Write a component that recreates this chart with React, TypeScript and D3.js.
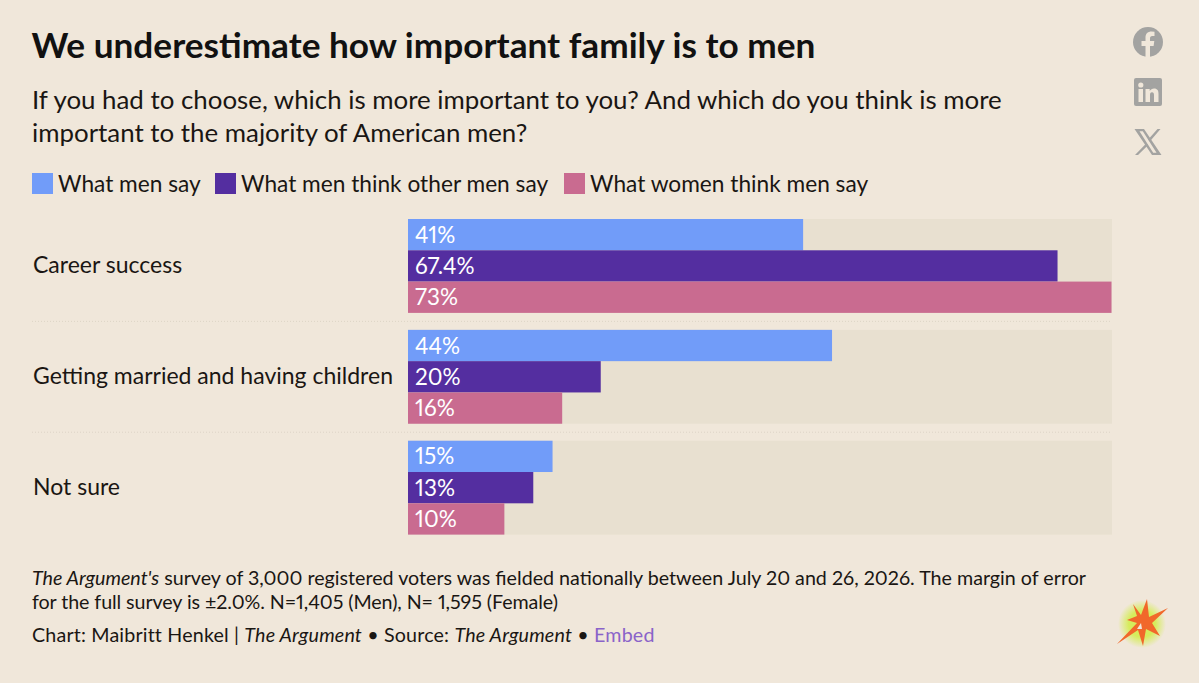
import { useEffect, useRef } from "react";
import * as d3 from "d3";

const categories = ["Career success", "Getting married and having children", "Not sure"];
const seriesNames = ["What men say", "What men think other men say", "What women think men say"];
const menSay = [41, 44, 15];
const menThink = [67.4, 20, 13];
const womenThink = [73, 16, 10];
const valueLabels = [
    ["41%", "44%", "15%"],
    ["67.4%", "20%", "13%"],
    ["73%", "16%", "10%"],
];
const colors = ["#719cf9", "#542ea0", "#c96b90"];

const W = 1199;
const H = 683;
const FONT = "Lato, 'Open Sans', sans-serif";
const BG = "#f0e7da";

export default function App() {
    const svgRef = useRef<SVGSVGElement | null>(null);

    useEffect(() => {
        document.body.style.margin = "0";
        document.body.style.background = BG;
        if (!svgRef.current) return;

        const svg = d3.select(svgRef.current);
        svg.selectAll("*").remove();
        svg.style("font-family", FONT).style("font-variant-numeric", "proportional-nums");

        const addText = (x: number, y: number, size: number, fill = "#1a1613") =>
            svg.append("text").attr("x", x).attr("y", y).attr("font-size", size).attr("fill", fill);

        addText(31.5, 58, 35.2, "#111").attr("font-weight", 700).text("We underestimate how important family is to men");
        addText(32, 109, 25.87).text("If you had to choose, which is more important to you? And which do you think is more");
        addText(32, 142, 25.87).text("important to the majority of American men?");

        // Legend
        const legendX = [32, 215, 564];
        seriesNames.forEach((name, i) => {
            svg.append("rect").attr("x", legendX[i]).attr("y", 173).attr("width", 21).attr("height", 21).attr("fill", colors[i]);
            addText(legendX[i] + 26, 192, 22.7).text(name);
        });

        const x = d3.scaleLinear().domain([0, 73]).range([408, 1111.5]);
        const y = d3.scaleBand<string>().domain(categories).range([219, 534.6]).paddingInner(17 / 111).paddingOuter(0);
        const inner = d3.scaleBand<number>().domain([0, 1, 2]).range([0, y.bandwidth()]);
        const series = [menSay, menThink, womenThink];

        categories.forEach((cat, c) => {
            const y0 = y(cat)!;
            svg.append("rect").attr("x", 408).attr("y", y0).attr("width", 704).attr("height", y.bandwidth()).attr("fill", "#e8e0d0");
            series.forEach((vals, s) => {
                const by = y0 + inner(s)!;
                svg.append("rect").attr("x", x(0)).attr("y", by).attr("width", x(vals[c]) - x(0)).attr("height", inner.bandwidth()).attr("fill", colors[s]);
                addText(415, by + inner.bandwidth() / 2 + 8, 22.5, "#fff").text(valueLabels[s][c]);
            });
            addText(33, y0 + y.bandwidth() / 2 + 7.5, 23).text(cat);
            if (c > 0) {
                svg.append("line").attr("x1", 32).attr("x2", 1112).attr("y1", y0 - 8.5).attr("y2", y0 - 8.5)
                    .attr("stroke", "#ddd5c6").attr("stroke-width", 1).attr("stroke-dasharray", "1 2");
            }
        });

        // Footer
        const note1 = addText(32, 585, 19.68);
        note1.append("tspan").attr("font-style", "italic").text("The Argument's");
        note1.append("tspan").text(" survey of 3,000 registered voters was fielded nationally between July 20 and 26, 2026. The margin of error");
        addText(32, 609, 19.68).attr("letter-spacing", -0.08).text("for the full survey is ±2.0%. N=1,405 (Men), N= 1,595 (Female)");
        const note2 = addText(32, 642, 19.68).attr("letter-spacing", 0.17);
        note2.append("tspan").text("Chart: Maibritt Henkel | ");
        note2.append("tspan").attr("font-style", "italic").text("The Argument");
        note2.append("tspan").text(" • Source: ");
        note2.append("tspan").attr("font-style", "italic").text("The Argument");
        note2.append("tspan").text(" • ");
        note2.append("tspan").attr("fill", "#8a63c9").text("Embed");

        // Share icons
        const grey = "#a3a3a1";
        const fb = svg.append("g").attr("transform", "translate(1148,42)");
        fb.append("circle").attr("r", 15).attr("fill", grey);
        fb.append("path").attr("fill", BG)
            .attr("d", "M-2.5,15 V4 H-6.5 V-1 H-2.5 V-4.5 C-2.5,-8.5 0,-10.5 3.5,-10.5 L6.5,-10.2 V-6 H4.3 C2.6,-6 2,-5 2,-3.6 V-1 H6.3 L5.6,4 H2 V15 Z");
        const li = svg.append("g").attr("transform", "translate(1148,92)");
        li.append("rect").attr("x", -14).attr("y", -14).attr("width", 28).attr("height", 28).attr("rx", 2).attr("fill", grey);
        li.append("rect").attr("x", -9.5).attr("y", -3).attr("width", 4.5).attr("height", 13).attr("fill", BG);
        li.append("circle").attr("cx", -7.2).attr("cy", -7).attr("r", 2.6).attr("fill", BG);
        li.append("path").attr("fill", BG)
            .attr("d", "M-2.5,-3 H1.7 V-1 C2.6,-2.4 4.2,-3.4 6,-3.4 C9.6,-3.4 10.5,-1 10.5,2 V10 H6 V3 C6,1.4 5.5,0.2 4,0.2 C2.4,0.2 2,1.5 2,3 V10 H-2.5 Z");
        const xIcon = svg.append("g").attr("transform", "translate(1148,142)");
        xIcon.append("path").attr("fill", grey).attr("fill-rule", "evenodd")
            .attr("d", "M-13.5,-13 H-4 L13.5,13 H4 Z M-8.5,-10.8 L5.2,10.8 H8.5 L-5.2,-10.8 Z");
        xIcon.append("path").attr("fill", grey).attr("d", "M9.5,-13 H12.5 L1.8,-0.6 L0.2,-2.6 Z M-1.6,1.2 L0,3.2 L-10,13 H-13 Z");

        // Logo
        const defs = svg.append("defs");
        const glow = defs.append("radialGradient").attr("id", "logo-glow");
        glow.append("stop").attr("offset", "0.55").attr("stop-color", "#d6ec5c");
        glow.append("stop").attr("offset", "1").attr("stop-color", "#f0e7da");
        const logo = svg.append("g").attr("transform", "translate(1142,624)");
        logo.append("circle").attr("r", 24).attr("fill", "url(#logo-glow)");
        logo.append("path").attr("fill", "#f1682a")
            .attr("d", "M-25,20 L-5,-1 L-15,-4 L-5,-8 L-9,-20 L-1,-9 L5,-25 L7,-7 L26,-16 L10,-1 L18,12 L4,5 L1,22 L-4,6 L-10,10 Z");
        logo.append("path").attr("fill", "#f0e7da").attr("d", "M-5,5 L-1,-1 L0,5 Z");
    }, []);

    return <svg ref={svgRef} width={W} height={H} style={{ display: "block", background: BG }} />;
}
